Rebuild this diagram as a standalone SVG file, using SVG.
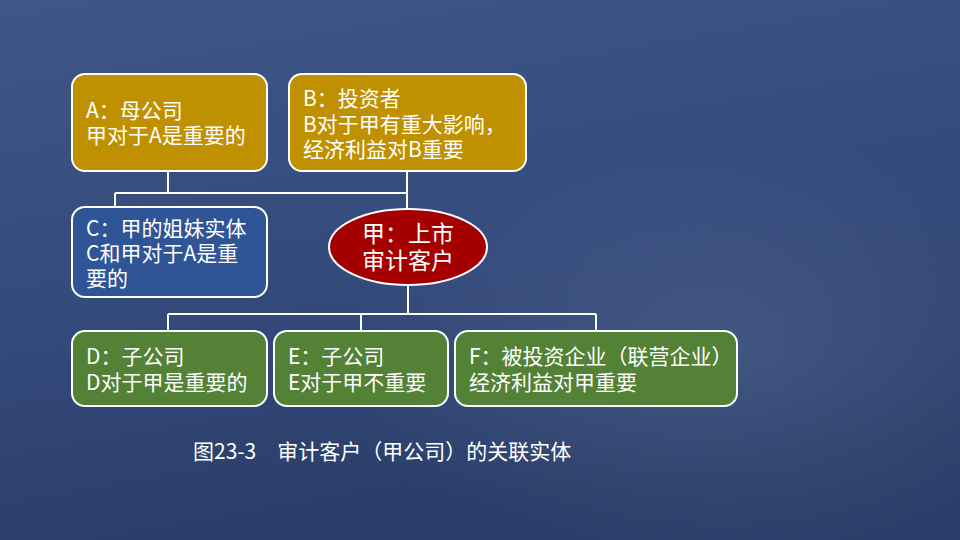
<svg xmlns="http://www.w3.org/2000/svg" width="960" height="540" viewBox="0 0 960 540">
<defs>
<linearGradient id="bg" x1="0" y1="0" x2="0.3" y2="1">
<stop offset="0" stop-color="#3f5687"/>
<stop offset="0.6" stop-color="#33497a"/>
<stop offset="1" stop-color="#2a3d68"/>
</linearGradient>
<radialGradient id="glow" cx="0.75" cy="0.65" r="0.4">
<stop offset="0" stop-color="#5a6e98" stop-opacity="0.45"/>
<stop offset="1" stop-color="#5a6e98" stop-opacity="0"/>
</radialGradient>
<style>
.box{stroke:#ffffff;stroke-width:2}
.gold{fill:#bf9000}
.blue{fill:#2f5597}
.green{fill:#538135}
.red{fill:#a50000}
.t{font-family:"Microsoft YaHei","Noto Sans CJK SC",sans-serif;font-size:21px;fill:#ffffff}
.c{text-anchor:middle;font-size:23px}
.ln{stroke:#ffffff;stroke-width:2;fill:none}
</style>
</defs>
<rect width="960" height="540" fill="url(#bg)"/>
<rect width="960" height="540" fill="url(#glow)"/>
<g id="connectors">
<path class="ln" d="M168 171V193M407 171V210M115 193H407M115 193V207"/>
<path class="ln" d="M408 284V314M168 314H596M168 314V331M361 314V331M596 314V331"/>
</g>
<g id="nodeA">
<rect class="box gold" x="72" y="74" width="195" height="97" rx="13"/>
<text class="t" x="86" y="118">A：母公司<tspan x="86" dy="25">甲对于A是重要的</tspan></text>
</g>
<g id="nodeB">
<rect class="box gold" x="289" y="74" width="237" height="97" rx="13"/>
<text class="t" x="303" y="106">B：投资者<tspan x="303" dy="25.5">B对于甲有重大影响，</tspan><tspan x="303" dy="25.5">经济利益对B重要</tspan></text>
</g>
<g id="nodeC">
<rect class="box blue" x="72" y="207" width="195" height="90" rx="13"/>
<text class="t" x="86" y="236">C：甲的姐妹实体<tspan x="86" dy="25">C和甲对于A是重</tspan><tspan x="86" dy="25">要的</tspan></text>
</g>
<g id="nodeJia">
<ellipse class="box red" cx="408" cy="247" rx="79" ry="38"/>
<text class="t c" x="408" y="242">甲：上市<tspan x="408" dy="27">审计客户</tspan></text>
</g>
<g id="nodeD">
<rect class="box green" x="72" y="331" width="195" height="75" rx="13"/>
<text class="t" x="86" y="364">D：子公司<tspan x="86" dy="25.5">D对于甲是重要的</tspan></text>
</g>
<g id="nodeE">
<rect class="box green" x="274" y="331" width="174" height="75" rx="13"/>
<text class="t" x="288" y="364">E：子公司<tspan x="288" dy="25.5">E对于甲不重要</tspan></text>
</g>
<g id="nodeF">
<rect class="box green" x="455" y="331" width="282" height="75" rx="13"/>
<text class="t" x="469" y="364">F：被投资企业（联营企业）<tspan x="469" dy="25.5">经济利益对甲重要</tspan></text>
</g>
<text class="t" x="193" y="459" xml:space="preserve">图23-3　审计客户（甲公司）的关联实体</text>
</svg>
